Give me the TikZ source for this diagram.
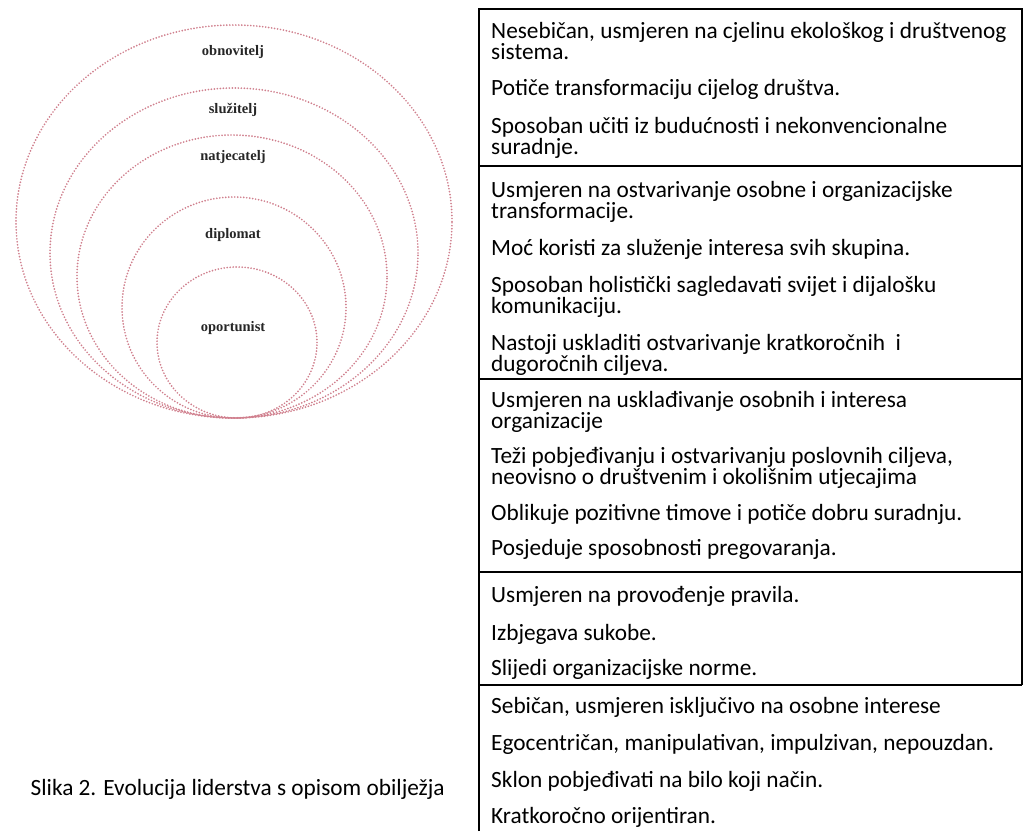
\documentclass[tikz,border=0pt]{standalone}
\usepackage{fontspec}
\newfontfamily\tabfont{Carlito}
\newfontfamily\labfont{Liberation Serif}
\definecolor{dotpink}{RGB}{208,128,142}
\newcommand\twoline[2]{\vtop{\baselineskip=21.5pt\lineskiplimit=-50pt\hbox{#1}\hbox{#2}}}
\begin{document}
\begin{tikzpicture}[x=1pt,y=-1pt,
  para/.style={anchor=base west, inner sep=0pt, font=\tabfont\fontsize{23.3}{21.5}\selectfont},
  ring/.style={draw=dotpink, line width=1.9pt, line cap=round, dash pattern=on 0pt off 3pt},
  lab/.style={font=\labfont\bfseries\fontsize{14.5}{16}\selectfont, text=black!85, inner sep=0pt},
  border/.style={line width=2.4pt, draw=black}]
\useasboundingbox (0,0) rectangle (1026,831);
% rings
\draw[ring] (234,221.5) ellipse [x radius=218pt, y radius=196.5pt];
\draw[ring] (234,253) ellipse [x radius=184pt, y radius=165pt];
\draw[ring] (232,276.5) ellipse [x radius=155pt, y radius=141.5pt];
\draw[ring] (234,307.5) ellipse [x radius=112pt, y radius=110.5pt];
\draw[ring] (237,342.5) ellipse [x radius=80pt, y radius=75.5pt];
\node[lab] (l1) at (233,52) {obnovitelj};
\node[lab] (l2) at (233,110) {služitelj};
\node[lab] (l3) at (233,157) {natjecatelj};
\node[lab] (l4) at (233,235) {diplomat};
\node[lab] (l5) at (233,328) {oportunist};
% table frame
\coordinate (tl) at (479,9);
\coordinate (tr) at (1022,9);
\coordinate (bl) at (479,831);
\coordinate (br) at (1022,685);
\coordinate (s1l) at (479,166); \coordinate (s1r) at (1022,166);
\coordinate (s2l) at (479,379); \coordinate (s2r) at (1022,379);
\coordinate (s3l) at (479,572); \coordinate (s3r) at (1022,572);
\coordinate (s4l) at (479,685);
\draw[border] (bl) -- (tl) -- (tr) -- (br);
\draw[border] (s1l) -- (s1r);
\draw[border] (s2l) -- (s2r);
\draw[border] (s3l) -- (s3r);
\draw[border] (s4l) -- (br);
% row 1
\node[para] (a1) at (491,38) {\twoline{Nesebičan, usmjeren na cjelinu ekološkog i društvenog}{sistema.}};
\node[para] (a2) at (491,95) {Potiče transformaciju cijelog društva.};
\node[para] (a3) at (491,133) {\twoline{Sposoban učiti iz budućnosti i nekonvencionalne}{suradnje.}};
% row 2
\node[para] (b1) at (491,197) {\twoline{Usmjeren na ostvarivanje osobne i organizacijske}{transformacije.}};
\node[para] (b2) at (491,255) {Moć koristi za služenje interesa svih skupina.};
\node[para] (b3) at (491,292) {\twoline{Sposoban holistički sagledavati svijet i dijalošku}{komunikaciju.}};
\node[para] (b4) at (491,350) {\twoline{Nastoji uskladiti ostvarivanje kratkoročnih\ \ i}{dugoročnih ciljeva.}};
% row 3
\node[para] (c1) at (491,407) {\twoline{Usmjeren na usklađivanje osobnih i interesa}{organizacije}};
\node[para] (c2) at (491,463) {\twoline{Teži pobjeđivanju i ostvarivanju poslovnih ciljeva,}{neovisno o društvenim i okolišnim utjecajima}};
\node[para] (c3) at (491,520) {Oblikuje pozitivne timove i potiče dobru suradnju.};
\node[para] (c4) at (491,555) {Posjeduje sposobnosti pregovaranja.};
% row 4
\node[para] (d1) at (491,602) {Usmjeren na provođenje pravila.};
\node[para] (d2) at (491,640) {Izbjegava sukobe.};
\node[para] (d3) at (491,675) {Slijedi organizacijske norme.};
% row 5
\node[para] (e1) at (491,713) {Sebičan, usmjeren isključivo na osobne interese};
\node[para] (e2) at (491,750) {Egocentričan, manipulativan, impulzivan, nepouzdan.};
\node[para] (e3) at (491,787) {Sklon pobjeđivati na bilo koji način.};
\node[para] (e4) at (491,823) {Kratkoročno orijentiran.};
% caption
\node[para, anchor=base east] (cap) at (445,795) {Slika 2. Evolucija liderstva s opisom obilježja};
\end{tikzpicture}
\end{document}
